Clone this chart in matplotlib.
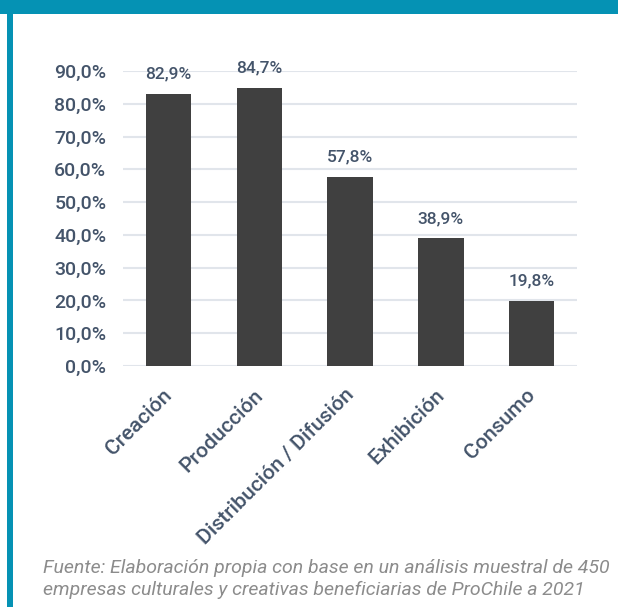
import matplotlib
matplotlib.use("Agg")
import matplotlib.pyplot as plt
from matplotlib.patches import Rectangle
from matplotlib.ticker import FuncFormatter
from matplotlib.transforms import ScaledTranslation

categories = ["Creación", "Producción", "Distribución / Difusión", "Exhibición", "Consumo"]
values = [82.9, 84.7, 57.8, 38.9, 19.8]
yticks = [0, 10, 20, 30, 40, 50, 60, 70, 80, 90]
source = ("Fuente: Elaboración propia con base en un análisis muestral de 450\n"
          "empresas culturales y creativas beneficiarias de ProChile a 2021")

W, H = 618, 607
plt.rcParams['font.family'] = ['Roboto', 'DejaVu Sans']
text_color = "#44546a"
teal = "#0592b4"

fig = plt.figure(figsize=(W / 100, H / 100), dpi=100)
fig.patch.set_facecolor("white")

# frame decorations
fig.add_artist(Rectangle((0, 1 - 14 / H), 1, 14 / H, transform=fig.transFigure,
                         facecolor=teal, edgecolor="none"))
fig.add_artist(Rectangle((7 / W, 0), 6 / W, 1, transform=fig.transFigure,
                         facecolor=teal, edgecolor="none"))

left, right = 123 / W, 577 / W
bottom, top = 1 - 366 / H, 1 - 71 / H
ax = fig.add_axes([left, bottom, right - left, top - bottom])
x = list(range(len(categories)))
bars = ax.bar(x, values, width=0.5, color="#404040", zorder=3)
ax.set_xlim(-0.5, len(categories) - 0.5)
ax.set_ylim(0, 90)
ax.set_yticks(yticks)
ax.yaxis.set_major_formatter(FuncFormatter(lambda v, p: f"{v:.1f}%".replace(".", ",")))
ax.grid(axis="y", color="#e1e5eb", linewidth=1.5, zorder=0)
for s in ax.spines.values():
    s.set_visible(False)
ax.tick_params(axis="both", length=0)
ax.tick_params(axis="y", labelsize=14, labelcolor=text_color, pad=12)
for lbl in ax.get_yticklabels():
    lbl.set_fontweight("medium")
ax.set_xticks(x)
ax.set_xticklabels(categories, rotation=45, ha="right", rotation_mode="anchor",
                   fontsize=15.3, color=text_color, fontweight="medium")
ax.tick_params(axis="x", pad=14)
shift = ScaledTranslation(-6 / 100, 0, fig.dpi_scale_trans)
for lbl in ax.get_xticklabels():
    lbl.set_transform(lbl.get_transform() + shift)

for xi, v in zip(x, values):
    ax.annotate(f"{v:.1f}%".replace(".", ","), (xi, v), xytext=(0, 9),
                textcoords="offset points", ha="center", va="bottom",
                fontsize=12.5, color=text_color, fontweight="medium", clip_on=False)

fig.text(43 / W, 1 - 559 / H, source, ha="left", va="top", fontsize=14,
         style="italic", color="#8c8c8c", linespacing=1.27)

fig.savefig("out.png", dpi=100, facecolor="white")
